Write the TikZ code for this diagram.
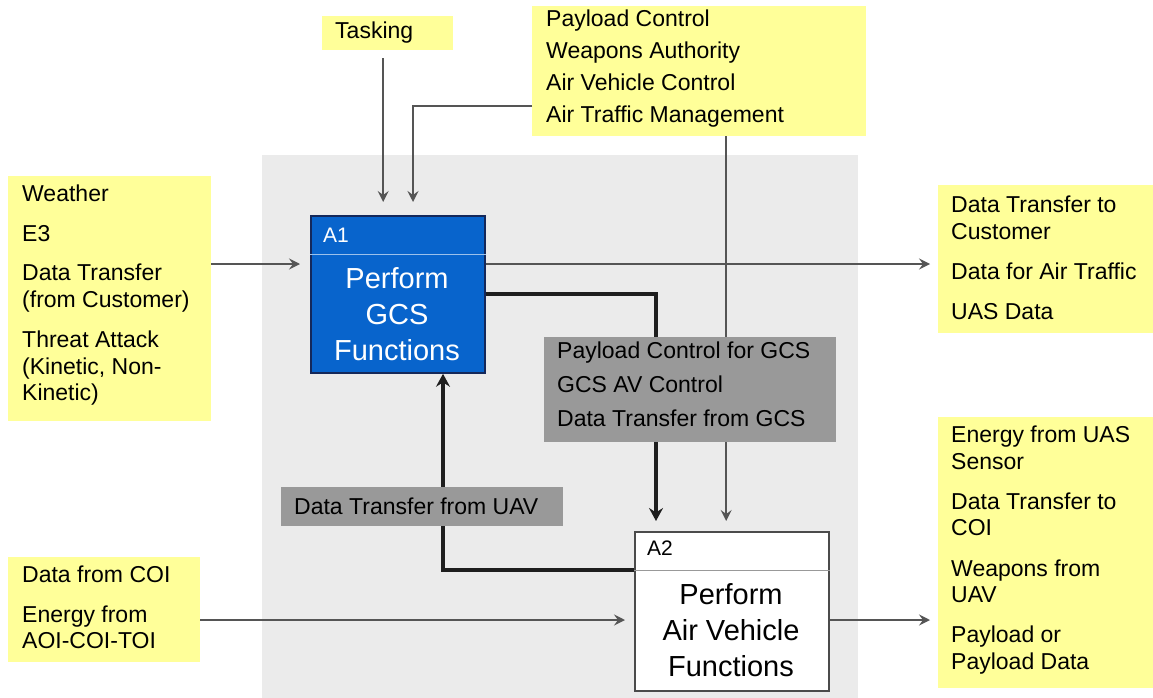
\documentclass[tikz,border=0pt]{standalone}
\usepackage{fontspec}
\setmainfont{Liberation Sans}
\usetikzlibrary{arrows.meta}
\definecolor{ylw}{RGB}{255,255,153}
\definecolor{bgray}{RGB}{235,235,235}
\definecolor{lgray}{RGB}{153,153,153}
\definecolor{ablue}{RGB}{8,100,204}
\definecolor{anavy}{RGB}{20,40,90}
\definecolor{lnc}{RGB}{85,85,85}
\definecolor{thk}{RGB}{30,30,30}
\tikzset{
  ybox/.style={fill=ylw, draw=none, anchor=north west, inner sep=0pt},
  gbox/.style={fill=lgray, draw=none, anchor=north west, inner sep=0pt},
  txt/.style={anchor=north west, inner sep=0pt, align=left, font=\fontsize{23}{26.5}\selectfont},
  bigtxt/.style={inner sep=0pt, align=center, font=\fontsize{29}{36}\selectfont},
  thinarr/.style={draw=lnc, line width=1.6pt, -{Stealth[length=11pt,width=11pt,inset=4pt]}},
  thickarr/.style={draw=thk, line width=3.4pt, -{Stealth[length=13pt,width=14pt,inset=4.5pt]}},
}
\begin{document}
\begin{tikzpicture}[x=1pt,y=-1pt]
\useasboundingbox (0,0) rectangle (1153,698);
% background
\node[fill=bgray, anchor=north west, inner sep=0pt, minimum width=596pt, minimum height=543pt] (bg) at (262,155) {};
% yellow boxes
\node[ybox, minimum width=131pt, minimum height=34pt] (tsk) at (322,16) {};
\node[ybox, minimum width=334pt, minimum height=130pt] (ctl) at (532,6) {};
\node[ybox, minimum width=203pt, minimum height=245pt] (inU) at (8,176) {};
\node[ybox, minimum width=192pt, minimum height=105pt] (inL) at (8,557) {};
\node[ybox, minimum width=215pt, minimum height=148pt] (outU) at (938,185) {};
\node[ybox, minimum width=215pt, minimum height=271pt] (outL) at (938,417) {};
% function boxes
\node[fill=ablue, draw=anavy, line width=1.8pt, anchor=north west, inner sep=0pt, minimum width=174pt, minimum height=157pt] (A1) at (310,215) {};
\node[fill=white, draw=thk!80, line width=1.8pt, anchor=north west, inner sep=0pt, minimum width=194pt, minimum height=159pt] (A2) at (634,531) {};
\draw[draw=white!60!ablue, line width=1pt] ([yshift=-39pt]A1.north west) -- ([yshift=-39pt]A1.north east);
\draw[draw=lgray, line width=1pt] ([yshift=-39pt]A2.north west) -- ([yshift=-39pt]A2.north east);
% connectors
\coordinate (a1in) at ([yshift=-49pt]A1.north west);
\coordinate (a2in) at ([yshift=-89pt]A2.north west);
\draw[thinarr, shorten <=8pt, shorten >=13pt] ([xshift=-4.5pt]tsk.south) -- ([xshift=-4.5pt]tsk.south |- A1.north);
\draw[thinarr, shorten >=13pt] ([yshift=-35pt]ctl.west) -| ([xshift=103pt]A1.north west);
\draw[thinarr, shorten >=10pt] ([xshift=27pt]ctl.south) -- ([xshift=27pt]ctl.south |- A2.north);
\draw[thinarr, shorten >=10pt] (inU.east |- a1in) -- (a1in);
\draw[thinarr, shorten >=8pt] (a1in -| A1.east) -- (a1in -| outU.west);
\draw[thinarr, shorten >=9pt] (inL.east |- a2in) -- (a2in);
\draw[thinarr, shorten >=8pt] (a2in -| A2.east) -- (a2in -| outL.west);
\draw[thickarr, shorten >=10pt] ([yshift=-79pt]A1.north east) -| ([xshift=22pt]A2.north west);
\draw[thickarr] ([yshift=-39pt]A2.north west) -| ([xshift=133pt]A1.south west);
% gray label boxes
\node[gbox, minimum width=292pt, minimum height=105pt] (gcs) at (544,337) {};
\node[gbox, minimum width=282pt, minimum height=39pt] (uav) at (281,487) {};
% texts
\node[txt] (tskT) at (335,22) {Tasking};
\node[txt] (ctlT) at (546,10) {Payload Control\\[5.5pt]Weapons Authority\\[5.5pt]Air Vehicle Control\\[5.5pt]Air Traffic Management};
\node[txt] (inUT) at (22,185) {Weather\\[13pt]E3\\[13pt]Data Transfer\\(from Customer)\\[14pt]Threat Attack\\(Kinetic, Non-\\Kinetic)};
\node[txt] (inLT) at (22,566) {Data from COI\\[13pt]Energy from\\AOI-COI-TOI};
\node[txt] (outUT) at (951,196) {Data Transfer to\\Customer\\[13.5pt]Data for Air Traffic\\[13.5pt]UAS Data};
\node[txt] (outLT) at (951,426) {Energy from UAS\\Sensor\\[13.5pt]Data Transfer to\\COI\\[14pt]Weapons from\\UAV\\[13.5pt]Payload or\\Payload Data};
\node[txt] (gcsT) at (557,342) {Payload Control for GCS\\[7.5pt]GCS AV Control\\[7.5pt]Data Transfer from GCS};
\node[txt] (uavT) at (294,498) {Data Transfer from UAV};
\node[txt, text=white, font=\fontsize{21}{25}\selectfont] (A1id) at (323,228) {A1};
\node[txt, font=\fontsize{21}{25}\selectfont] (A2id) at (647,541) {A2};
\node[bigtxt, text=white] (A1T) at (397,314) {Perform\\GCS\\Functions};
\node[bigtxt] (A2T) at (731,630) {Perform\\Air Vehicle\\Functions};
\end{tikzpicture}
\end{document}
